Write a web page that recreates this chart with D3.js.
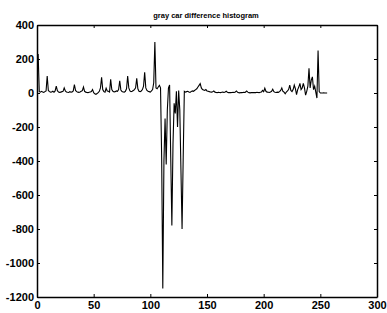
<!DOCTYPE html>
<html>
<head>
<meta charset="utf-8">
<script src="https://cdn.jsdelivr.net/npm/d3@7"></script>
<style>
  html, body { margin: 0; padding: 0; background: #fff; }
  svg { display: block; }
  .tick text { font-family: "Liberation Sans", Arial, sans-serif; font-weight: bold; font-size: 11px; fill: #000; }
  .axis path, .axis line { stroke: #000; }
</style>
</head>
<body>
<svg id="chart" width="387" height="313"></svg>
<script>
// difference histogram, bins 1..256
const diffCounts = [
  230, 8, 5, 10, 6, 4, 8, 12, 100, 15,
  8, 5, 6, 10, 4, 12, 40, 14, 6, 4,
  5, 8, 10, 30, 12, 6, 4, 3, 8, 5,
  6, 12, 50, 15, 8, 5, 4, 6, 10, 14,
  35, 10, 5, 3, 2, 4, 6, 8, 20, 2,
  -5, -8, -3, 2, 10, 30, 92, 20, 8, 5,
  28, 12, 10, 6, 80, 20, 10, 6, 8, 12,
  10, 20, 72, 18, 8, 6, 5, 10, 25, 100,
  30, 12, 8, 10, 15, 20, 30, 86, 25, 10,
  8, 12, 20, 40, 122, 30, 15, 10, 8, 5,
  12, 20, 60, 300, 30, 25, 35, 45, 30, -380,
  -1150, -400, -150, -420, -100, 30, 47, -380, -780, -300,
  -60, -120, 10, -200, 15, -100, -450, -800, -380, 10,
  5, 8, 10, 6, 4, 8, 12, 10, 15, 20,
  25, 35, 45, 55, 30, 20, 18, 15, 20, 12,
  10, 8, 6, 5, 8, 12, 5, 3, 2, 4,
  3, 2, 4, 5, 3, 6, 10, 4, 2, 3,
  2, 3, 4, 3, 6, 12, 4, 2, 1, 3,
  2, 4, 3, 5, 12, 5, 2, 1, 2, 3,
  2, 3, 2, 4, 3, 2, 4, 6, 15, 8,
  28, 10, 5, 4, 3, 6, 10, 22, 8, 4,
  3, 5, 4, 8, 15, 30, 10, 5, -5, 6,
  12, 20, 47, 15, 8, 20, 47, 25, -10, 20,
  35, 57, 20, 30, 57, 30, -12, 10, 40, 145,
  30, 76, 95, 20, 40, 5, -30, 250, 8, 0,
  0, 0, 1, 0, 0, 0
];

const xTicks = [0, 50, 100, 150, 200, 250, 300];
const yTicks = [-1200, -1000, -800, -600, -400, -200, 0, 200, 400];
const titleText = 'gray car difference histogram';

const svg = d3.select('#chart');
const box = { left: 37, right: 377, top: 25, bottom: 297 };

const x = d3.scaleLinear().domain([0, 300]).range([box.left, box.right]);
const y = d3.scaleLinear().domain([-1200, 400]).range([box.bottom, box.top]);

// Plot the data line
svg.append('path')
  .datum(diffCounts)
  .attr('fill', 'none')
  .attr('stroke', '#000')
  .attr('stroke-width', 1.1)
  .attr('d', d3.line().x((d, i) => x(i + 1)).y(d => y(d)));

const fmt = d => String(d);

// Axes, matlab style: inward ticks, box on
svg.append('g').attr('class', 'axis')
  .attr('transform', `translate(0,${box.bottom})`)
  .call(d3.axisBottom(x).tickValues(xTicks).tickFormat(fmt).tickSizeInner(-3).tickSizeOuter(0).tickPadding(4));

svg.append('g').attr('class', 'axis')
  .attr('transform', `translate(${box.left},0)`)
  .call(d3.axisLeft(y).tickValues(yTicks).tickFormat(fmt).tickSizeInner(-3).tickSizeOuter(0).tickPadding(3));

svg.append('g').attr('class', 'axis')
  .attr('transform', `translate(0,${box.top})`)
  .call(d3.axisTop(x).tickValues(xTicks).tickFormat('').tickSizeInner(-3).tickSizeOuter(0));

svg.append('g').attr('class', 'axis')
  .attr('transform', `translate(${box.right},0)`)
  .call(d3.axisRight(y).tickValues(yTicks).tickFormat('').tickSizeInner(-3).tickSizeOuter(0));

svg.selectAll('.axis path.domain').attr('stroke-width', 1.5);

// Title
svg.append('text')
  .attr('x', 206)
  .attr('y', 18)
  .attr('text-anchor', 'middle')
  .attr('font-family', '"Liberation Sans", Arial, sans-serif')
  .attr('font-weight', 'bold')
  .attr('font-size', 7.5)
  .text(titleText);
</script>
</body>
</html>
